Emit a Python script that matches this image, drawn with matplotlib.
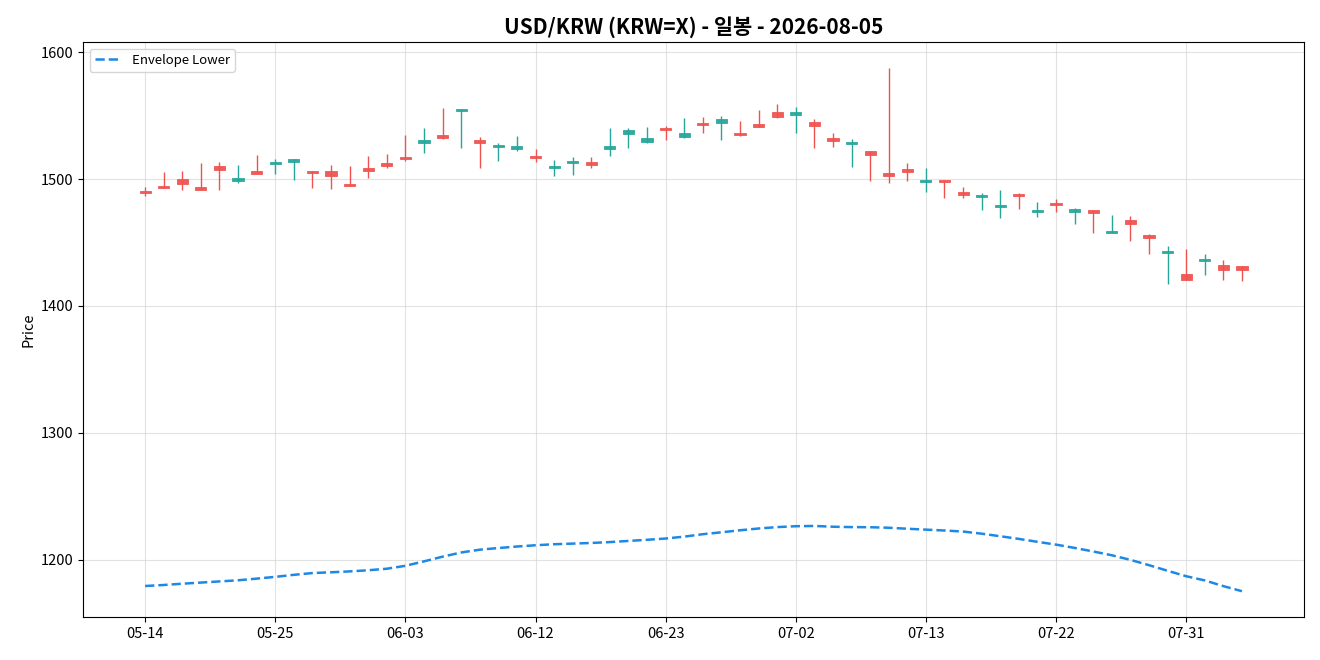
import matplotlib
matplotlib.use("Agg")
import matplotlib.pyplot as plt
import pandas as pd
import numpy as np

plt.rcParams['font.family'] = ['Noto Sans CJK KR', 'DejaVu Sans']

dates = pd.bdate_range('2026-05-14', periods=60)
date_labels = [d.strftime('%m-%d') for d in dates]

opens = [1489.2, 1493.2, 1496.3, 1491.6, 1507.4, 1500.8, 1504.2, 1513.7, 1515.8, 1505.0,
         1502.6, 1494.5, 1506.6, 1510.5, 1515.5, 1530.7, 1532.6, 1555.1, 1528.6, 1526.8,
         1526.0, 1516.8, 1510.5, 1514.5, 1510.8, 1526.0, 1538.6, 1532.3, 1538.9, 1536.5,
         1542.2, 1547.0, 1534.9, 1541.2, 1548.5, 1552.7, 1541.5, 1530.2, 1529.4, 1519.1,
         1502.6, 1505.8, 1499.5, 1497.4, 1487.6, 1487.4, 1479.5, 1486.9, 1475.6, 1479.3,
         1476.1, 1473.5, 1459.1, 1464.3, 1453.3, 1443.3, 1420.2, 1437.0, 1428.1, 1428.1]
closes = [1490.8, 1494.5, 1500.0, 1493.7, 1510.0, 1498.7, 1506.3, 1512.1, 1513.7, 1506.6,
          1506.3, 1496.1, 1508.7, 1512.6, 1517.3, 1528.6, 1534.7, 1553.8, 1530.7, 1525.0,
          1523.9, 1518.4, 1508.9, 1512.9, 1513.7, 1523.9, 1535.2, 1529.4, 1540.2, 1532.8,
          1544.1, 1544.3, 1536.2, 1543.3, 1552.7, 1550.6, 1544.9, 1532.3, 1527.8, 1522.0,
          1504.7, 1507.9, 1497.9, 1498.9, 1489.7, 1485.6, 1478.2, 1488.4, 1474.3, 1481.4,
          1474.3, 1475.3, 1457.2, 1467.7, 1455.6, 1441.5, 1425.2, 1435.2, 1432.3, 1431.2]
highs = [1493.5, 1505.8, 1506.6, 1512.9, 1513.7, 1511.0, 1519.2, 1515.8, 1515.8, 1506.6,
         1511.0, 1510.3, 1518.4, 1519.7, 1534.9, 1540.4, 1556.2, 1555.1, 1533.4, 1528.6,
         1534.1, 1523.6, 1515.0, 1517.3, 1517.6, 1540.4, 1540.4, 1541.2, 1542.0, 1548.3,
         1549.1, 1549.6, 1545.7, 1554.3, 1559.3, 1556.7, 1547.2, 1536.2, 1531.2, 1522.0,
         1587.7, 1512.6, 1508.7, 1498.9, 1493.7, 1489.0, 1491.3, 1489.2, 1481.9, 1484.2,
         1477.2, 1475.3, 1471.6, 1470.9, 1456.7, 1447.2, 1444.9, 1440.9, 1436.2, 1431.2]
lows = [1486.6, 1493.2, 1491.6, 1491.6, 1491.6, 1497.1, 1504.2, 1504.2, 1499.5, 1492.9,
        1492.1, 1494.5, 1500.8, 1508.9, 1514.2, 1520.8, 1531.5, 1524.7, 1508.9, 1514.5,
        1522.3, 1513.7, 1502.6, 1503.4, 1508.9, 1518.4, 1524.7, 1528.6, 1531.0, 1532.3,
        1536.5, 1530.7, 1533.9, 1541.2, 1548.0, 1536.5, 1524.4, 1525.5, 1509.4, 1498.7,
        1497.1, 1498.7, 1490.0, 1484.8, 1484.8, 1475.8, 1469.6, 1476.6, 1470.3, 1474.3,
        1464.8, 1457.7, 1457.2, 1451.4, 1441.2, 1417.6, 1420.2, 1424.7, 1420.7, 1420.0]
env_lower = [1179.4, 1180.2, 1181.2, 1182.1, 1183.0, 1183.9, 1185.2, 1186.6, 1188.2, 1189.6,
             1190.2, 1190.9, 1191.8, 1193.0, 1195.3, 1198.8, 1202.5, 1205.8, 1208.0, 1209.3,
             1210.5, 1211.5, 1212.3, 1212.8, 1213.3, 1214.0, 1214.9, 1215.8, 1216.8, 1218.3,
             1220.2, 1221.7, 1223.3, 1224.7, 1225.8, 1226.5, 1226.7, 1226.1, 1225.8, 1225.7,
             1225.3, 1224.5, 1223.8, 1223.1, 1222.3, 1220.6, 1218.6, 1216.5, 1214.2, 1212.0,
             1209.4, 1206.6, 1203.6, 1200.0, 1195.8, 1191.4, 1187.1, 1183.8, 1179.3, 1175.3]

UP = '#ef5350'
DOWN = '#26a69a'

fig = plt.figure(figsize=(13.2, 6.6), dpi=100)
ax = fig.add_axes([0.0629, 0.0652, 0.925, 0.8712])

x = np.arange(len(opens))
for i in x:
    o, c, h, l = opens[i], closes[i], highs[i], lows[i]
    col = UP if c >= o else DOWN
    ax.vlines(i, l, h, color=col, linewidth=1.0, zorder=2)
    bottom = min(o, c)
    height = max(abs(c - o), 0.8)
    ax.bar(i, height, bottom=bottom, width=0.6, color=col, edgecolor=col,
           linewidth=0.6, alpha=0.95, zorder=3)

ax.plot(x, env_lower, linestyle='--', color='#1e88e5', linewidth=1.8,
        label='Envelope Lower', zorder=4)

ax.set_xlim(-3.34, 62.34)
ax.set_ylim(1155, 1608)
ticks = list(range(0, len(opens), 7))
ax.set_xticks(ticks)
ax.set_xticklabels([date_labels[t] for t in ticks], fontsize=10.5)
ax.set_yticks([1200, 1300, 1400, 1500, 1600])
ax.tick_params(axis='y', labelsize=10.5)
ax.set_ylabel('Price', fontsize=10.5)
ax.grid(True, color='#d0d0d0', alpha=0.6, linewidth=0.8)
ax.set_axisbelow(True)
ax.set_title('USD/KRW (KRW=X) - 일봉 - 2026-08-05', fontsize=15, fontweight='bold')
ax.legend(loc='upper left', fontsize=9.5)

fig.savefig('out.png', dpi=100)
